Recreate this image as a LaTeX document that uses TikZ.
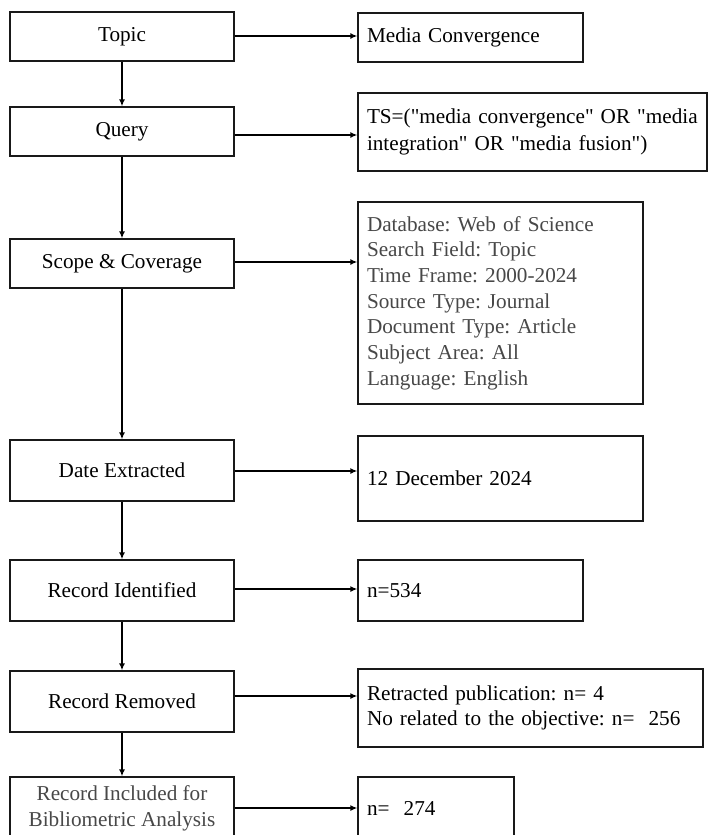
\documentclass[tikz,border=0pt]{standalone}
\usepackage{fontspec}
\setmainfont{Liberation Serif}[Ligatures=TeXOff]
\usetikzlibrary{arrows.meta}
\definecolor{txtgray}{RGB}{72,72,72}
\definecolor{linecol}{RGB}{25,25,25}
\frenchspacing
\begin{document}
\begin{tikzpicture}[x=1pt,y=-1pt,
  every node/.style={font=\fontsize{21.2}{25.7}\selectfont},
  lbox/.style={draw=linecol, line width=1.3pt, minimum width=224pt, inner sep=0pt, align=center},
  rbox/.style={draw=linecol, line width=1.3pt, inner xsep=9pt, inner ysep=0pt, align=left},
  arr/.style={draw=black, line width=1.4pt, -{Latex[length=7pt,width=6pt]}}
]
\useasboundingbox (0,0) rectangle (708,835);
\fill[white] (0,0) rectangle (708,835);

% left column
\node[lbox, minimum height=49pt] (topic) at (122,36.5) {Topic};
\node[lbox, minimum height=49pt] (query) at (122,131.5) {Query};
\node[lbox, minimum height=49pt] (scope) at (122,263.5) {Scope \& Coverage};
\node[lbox, minimum height=61pt] (date) at (122,470.5) {Date Extracted};
\node[lbox, minimum height=61pt] (ident) at (122,590.5) {Record Identified};
\node[lbox, minimum height=61pt] (remov) at (122,701.5) {Record Removed};
\node[lbox, minimum height=63pt, text=txtgray] (incl) at (122,808.5) {Record Included for\\Bibliometric Analysis};

% right column
\node[rbox, text width=207pt, minimum height=49pt] (mc) at (470.5,37.5) {Media Convergence};
\node[rbox, text width=331pt, minimum height=78pt, font=\fontsize{21.2}{27}\selectfont] (ts) at (532.5,132) {\mbox{TS=("media convergence" OR "media}\\\mbox{integration" OR "media fusion")}};
\node[rbox, text width=267pt, minimum height=202pt, text=txtgray] (sc) at (500.5,303) {Database: Web of Science\\Search Field: Topic\\Time Frame: 2000-2024\\Source Type: Journal\\Document Type: Article\\Subject Area: All\\Language: English};
\node[rbox, text width=267pt, minimum height=85pt] (de) at (500.5,478.5) {12 December 2024};
\node[rbox, text width=207pt, minimum height=61pt] (n534) at (470.5,590.5) {n=534};
\node[rbox, text width=327pt, minimum height=78pt] (rr) at (530.5,708) {Retracted publication: n= 4\\No related to the objective: n=\ \ 256};
\node[rbox, text width=138pt, minimum height=63pt] (n274) at (436,808.5) {n=\ \ 274};

% vertical arrows
\draw[arr] (topic) -- (query);
\draw[arr] (query) -- (scope);
\draw[arr] (scope) -- (date);
\draw[arr] (date) -- (ident);
\draw[arr] (ident) -- (remov);
\draw[arr] (remov) -- (incl);

% horizontal arrows
\draw[arr] ([yshift=0.5pt]topic.east) -- ([yshift=0.5pt]topic.east -| mc.west);
\draw[arr] ([yshift=-3.5pt]query.east) -- ([yshift=-3.5pt]query.east -| ts.west);
\draw[arr] ([yshift=1.5pt]scope.east) -- ([yshift=1.5pt]scope.east -| sc.west);
\draw[arr] ([yshift=-0.5pt]date.east) -- ([yshift=-0.5pt]date.east -| de.west);
\draw[arr] ([yshift=1.5pt]ident.east) -- ([yshift=1.5pt]ident.east -| n534.west);
\draw[arr] ([yshift=5.5pt]remov.east) -- ([yshift=5.5pt]remov.east -| rr.west);
\draw[arr] ([yshift=0.5pt]incl.east) -- ([yshift=0.5pt]incl.east -| n274.west);
\end{tikzpicture}
\end{document}
